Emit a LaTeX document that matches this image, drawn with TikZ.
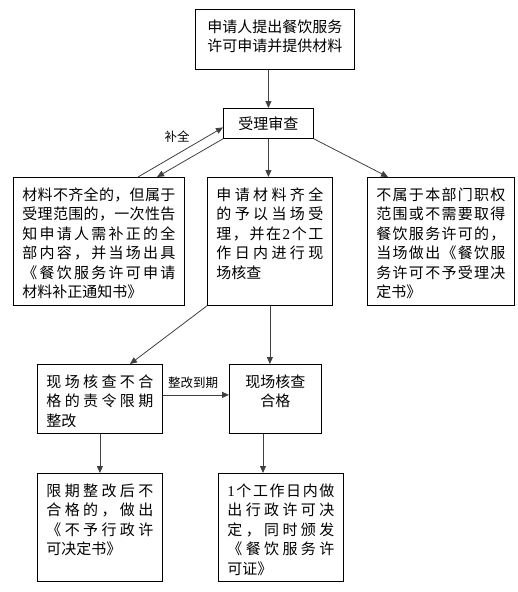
\documentclass[tikz,border=0pt]{standalone}
\usepackage{fontspec}
\setmainfont{Noto Sans CJK SC}
\newfontfamily\digits{Liberation Serif}
\usetikzlibrary{arrows.meta}
\ExplSyntaxOn
\NewDocumentCommand \jline { m } { \makebox[\hsize][s]{ \tl_map_inline:nn {#1} { ##1 \hfil } \unskip } }
\ExplSyntaxOff
\tikzset{
 box/.style={draw,line width=0.8pt,anchor=north west,inner xsep=9pt,inner ysep=10pt,font=\fontsize{15pt}{19.5pt}\selectfont},
 flow/.style={draw=black!75,line width=0.8pt,-{Triangle[length=7pt,width=6pt]}},
 lbl/.style={font=\fontsize{12.5pt}{14pt}\selectfont,inner sep=0pt},
}
\begin{document}
\begin{tikzpicture}[x=1pt,y=-1pt]
 \useasboundingbox (0,0) rectangle (518,592);
 \node[box] (apply) at (195,9) {\parbox[c][40pt][t]{141pt}{\centering 申请人提出餐饮服务\\许可申请并提供材料}};
 \node[box,inner sep=0pt,minimum width=90pt,minimum height=30pt] (review) at (223,108) {受理审查};
 \node[box] (incomp) at (13,177) {\parbox[c][108pt][t]{153pt}{\jline{材料不齐全的，但属于}\\\jline{受理范围的，一次性告}\\\jline{知申请人需补正的全}\\\jline{部内容，并当场出具}\\\jline{《餐饮服务许可申请}\\材料补正通知书》}};
 \node[box] (full) at (207,177) {\parbox[c][108pt][t]{107pt}{\jline{申请材料齐全}\\\jline{的予以当场受}\\\jline{理，并在{{\digits 2}}个工}\\\jline{作日内进行现}\\场核查}};
 \node[box] (nojur) at (367,177) {\parbox[c][108pt][t]{129pt}{\jline{不属于本部门职权}\\\jline{范围或不需要取得}\\\jline{餐饮服务许可的，}\\\jline{当场做出《餐饮服}\\\jline{务许可不予受理决}\\定书》}};
 \node[box] (rect) at (37,364) {\parbox[c][49pt][t]{107pt}{\jline{现场核查不合}\\\jline{格的责令限期}\\整改}};
 \node[box] (pass) at (229,364) {\parbox[c][49pt][t]{74pt}{\centering 现场核查\\合格}};
 \node[box] (deny) at (37,473) {\parbox[c][88pt][t]{107pt}{\jline{限期整改后不}\\\jline{合格的，做出}\\\jline{《不予行政许}\\可决定书》}};
 \node[box] (grant) at (218,473) {\parbox[c][88pt][t]{107pt}{\jline{{{\digits 1}}个工作日内做}\\\jline{出行政许可决}\\\jline{定，同时颁发}\\\jline{《餐饮服务许}\\可证》}};

 % arrows
 \draw[flow] (review.north |- apply.south) -- (review.north);
 \draw[flow] (review.south) -- (review.south |- full.north);
 \draw[flow] (review.south east) -- ([xshift=21pt]nojur.north west);
 \draw[flow] ([xshift=125pt]incomp.north west) -- ([yshift=-4pt]review.west);
 \draw[flow] (review.south west) -- ([xshift=144pt]incomp.north west);
 \node[lbl] (fill) at (177,137) {补全};
 \draw[flow] (full.south west) -- ([xshift=93pt]rect.north west);
 \draw[flow] (full.south) -- (full.south |- pass.north);
 \draw[flow] ([yshift=4pt]rect.east) -- ([yshift=4pt]rect.east -| pass.west);
 \node[lbl] (due) at (193,383) {整改到期};
 \draw[flow] (rect.south) -- (deny.north);
 \draw[flow] ([xshift=34pt]pass.south west) -- ([xshift=34pt]pass.south west |- grant.north);
\end{tikzpicture}
\end{document}
